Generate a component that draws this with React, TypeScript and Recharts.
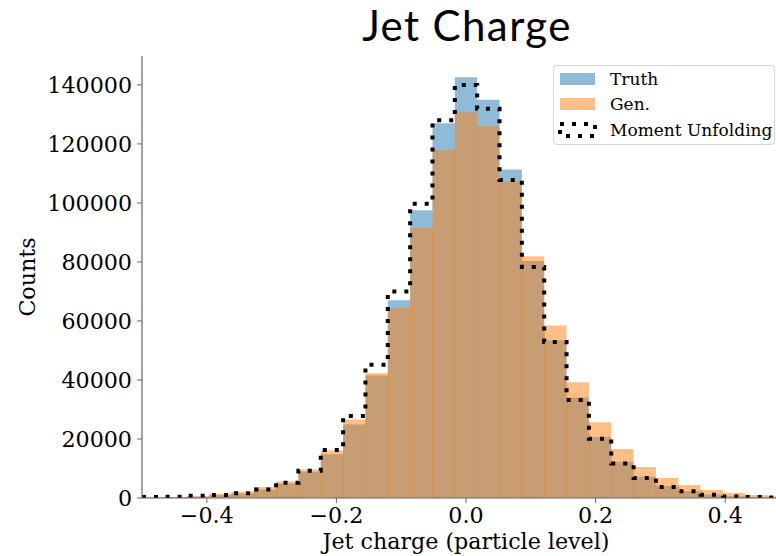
import React from 'react';
import { ComposedChart, Area, Line, Bar, XAxis, YAxis } from 'recharts';

// Histogram bin edges (29 equal bins over [-0.5, 0.5])
const binEdges = [
  -0.5, -0.46552, -0.43103, -0.39655, -0.36207, -0.32759, -0.2931, -0.25862,
  -0.22414, -0.18966, -0.15517, -0.12069, -0.08621, -0.05172, -0.01724, 0.01724,
  0.05172, 0.08621, 0.12069, 0.15517, 0.18966, 0.22414, 0.25862, 0.2931,
  0.32759, 0.36207, 0.39655, 0.43103, 0.46552, 0.5,
];

// Counts per bin
const truthCounts = [
  150, 250, 450, 900, 1500, 2900, 4900, 8900, 14800, 24900, 41500, 67000,
  97500, 127000, 142600, 135000, 111300, 80300, 53500, 34100, 20700, 12300,
  7200, 4100, 2400, 1200, 600, 300, 150,
];
const genCounts = [
  200, 350, 600, 1400, 2100, 3700, 5600, 9700, 16100, 26600, 42300, 64400,
  91500, 118000, 130700, 126200, 107300, 81900, 58500, 39200, 25700, 16600,
  10500, 6800, 4400, 2700, 1700, 1000, 600,
];
const unfoldedCounts = [
  300, 440, 750, 1000, 1600, 2900, 5200, 9200, 16300, 27800, 45200, 70000,
  99700, 128000, 140000, 131900, 107800, 78300, 52900, 33200, 20100, 11700,
  6800, 3700, 2300, 1100, 550, 340, 150,
];

const yTicks = [0, 20000, 40000, 60000, 80000, 100000, 120000, 140000];
const xTicks = [-0.4, -0.2, 0, 0.2, 0.4];

const seriesNames = { truth: 'Truth', gen: 'Gen.', mu: 'Moment Unfolding' };

const stepData = binEdges.map((edge, i) => {
  const k = Math.min(i, truthCounts.length - 1);
  // thin seam between adjacent Gen. bars, as tall as the shorter neighbour
  const seam = i > 0 && i < genCounts.length ? Math.min(genCounts[i - 1], genCounts[i]) : 0;
  return { x: edge, truth: truthCounts[k], gen: genCounts[k], mu: unfoldedCounts[k], seam };
});

const SERIF = '"DejaVu Serif", serif';
const SPINE = '#666666';

const fmtX = (v: number) => {
  const s = Math.abs(v).toFixed(1);
  return v < -1e-9 ? '\u2212' + s : s;
};

const LegendBox = () => (
  <div
    style={{
      position: 'absolute',
      left: 553,
      top: 65,
      width: 222,
      height: 80,
      border: '1px solid #d6d6d6',
      borderRadius: 4,
      background: 'rgba(255,255,255,0.8)',
      boxSizing: 'border-box',
    }}
  >
    <svg width={222} height={80} style={{ position: 'absolute', left: 0, top: 0 }}>
      <rect x={6} y={7} width={35} height={12} fill="#1f77b4" fillOpacity={0.5} />
      <rect x={6} y={32} width={35} height={12} fill="#ff7f0e" fillOpacity={0.5} />
      <rect x={6} y={58} width={35} height={12} fill="none" stroke="#000" strokeWidth={4} strokeDasharray="4 8" />
      <text x={56} y={19} fontFamily={SERIF} fontSize={17} fill="#000">{seriesNames.truth}</text>
      <text x={56} y={44} fontFamily={SERIF} fontSize={17} fill="#000">{seriesNames.gen}</text>
      <text x={56} y={70} fontFamily={SERIF} fontSize={17} fill="#000">{seriesNames.mu}</text>
    </svg>
  </div>
);

export default function App() {
  return (
    <div style={{ position: 'absolute', left: 0, top: 0, width: 776, height: 556, overflow: 'hidden', background: '#fff' }}>
      <ComposedChart
        width={800}
        height={556}
        data={stepData}
        margin={{ top: 56, right: 10, bottom: 28, left: 42 }}
      >
        <XAxis
          dataKey="x"
          type="number"
          domain={[-0.5, 0.5]}
          ticks={xTicks}
          tickFormatter={fmtX}
          allowDataOverflow
          height={30}
          tickSize={5}
          tickMargin={4}
          stroke={SPINE}
          tick={{ fill: '#000', fontFamily: SERIF, fontSize: 22.2 }}
          axisLine={{ stroke: SPINE, strokeWidth: 1.2 }}
          tickLine={{ stroke: SPINE }}
        />
        <XAxis
          xAxisId="top"
          dataKey="x"
          type="number"
          orientation="top"
          domain={[-0.5, 0.5]}
          height={0}
          tick={false}
          tickLine={false}
          axisLine={{ stroke: SPINE, strokeWidth: 1.2 }}
        />
        <YAxis
          type="number"
          domain={[0, 149800]}
          ticks={yTicks}
          allowDataOverflow
          width={100}
          tickSize={5}
          tickMargin={5}
          stroke={SPINE}
          tick={{ fill: '#000', fontFamily: SERIF, fontSize: 22.2 }}
          axisLine={{ stroke: SPINE, strokeWidth: 1.2 }}
          tickLine={{ stroke: SPINE }}
        />
        <Area
          type="stepAfter"
          dataKey="truth"
          name={seriesNames.truth}
          stroke="none"
          fill="#1f77b4"
          fillOpacity={0.5}
          isAnimationActive={false}
          dot={false}
          activeDot={false}
        />
        <Area
          type="stepAfter"
          dataKey="gen"
          name={seriesNames.gen}
          stroke="none"
          fill="#ff7f0e"
          fillOpacity={0.5}
          isAnimationActive={false}
          dot={false}
          activeDot={false}
        />
        <Bar
          dataKey="seam"
          barSize={1}
          fill="#ff7f0e"
          fillOpacity={0.45}
          isAnimationActive={false}
          legendType="none"
        />
        <Line
          type="stepAfter"
          dataKey="mu"
          name={seriesNames.mu}
          stroke="#000"
          strokeWidth={4}
          strokeDasharray="4 8"
          dot={false}
          activeDot={false}
          isAnimationActive={false}
        />
      </ComposedChart>
      <svg width={776} height={556} style={{ position: 'absolute', left: 0, top: 0, pointerEvents: 'none' }}>
        <text x={467} y={41} textAnchor="middle" fontFamily="Lato, sans-serif" fontSize={42} letterSpacing={1.4} fill="#000">Jet Charge</text>
        <text x={466} y={549} textAnchor="middle" fontFamily={SERIF} fontSize={22.2} fill="#000">Jet charge (particle level)</text>
        <text x={0} y={0} transform="translate(35 277) rotate(-90)" textAnchor="middle" fontFamily={SERIF} fontSize={22.2} fill="#000">Counts</text>
      </svg>
      <LegendBox />
    </div>
  );
}
